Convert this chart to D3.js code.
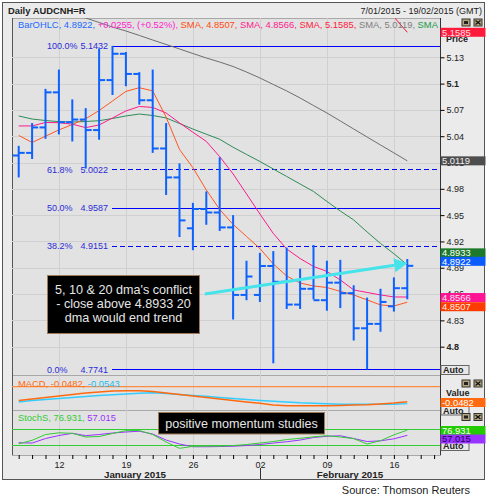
<!DOCTYPE html>
<html>
<head>
<meta charset="utf-8">
<script src="https://cdn.jsdelivr.net/npm/d3@7"></script>
<style>
  body { margin: 0; background: #fff; }
  text { font-family: "Liberation Sans", Arial, sans-serif; }
</style>
</head>
<body>
<svg id="chart"></svg>
<script>
const width = 489,
    height = 504;

// trading days shown on the axis (data ends on 17 Feb)
const days = ["2015-01-07", "2015-01-08", "2015-01-09", "2015-01-12", "2015-01-13", "2015-01-14",
    "2015-01-15", "2015-01-16", "2015-01-19", "2015-01-20", "2015-01-21", "2015-01-22", "2015-01-23",
    "2015-01-26", "2015-01-27", "2015-01-28", "2015-01-29", "2015-01-30", "2015-02-02", "2015-02-03",
    "2015-02-04", "2015-02-05", "2015-02-06", "2015-02-09", "2015-02-10", "2015-02-11", "2015-02-12",
    "2015-02-13", "2015-02-16", "2015-02-17", "2015-02-18", "2015-02-19"];

const open = [5.018, 5.021, 5.050, 5.090, 5.056, 5.059, 5.047, 5.104, 5.134, 5.111, 5.081, 5.026, 4.993,
    4.935, 4.957, 4.953, 4.936, 4.859, 4.859, 4.892, 4.874, 4.848, 4.866, 4.853, 4.873, 4.861, 4.821,
    4.826, 4.846, 4.8667];
const high = [5.029, 5.055, 5.094, 5.116, 5.082, 5.072, 5.140, 5.143, 5.136, 5.113, 5.116, 5.055, 5.009,
    4.964, 4.977, 5.016, 4.950, 4.898, 4.907, 4.909, 4.913, 4.889, 4.916, 4.898, 4.899, 4.870, 4.856,
    4.866, 4.879, 4.900];
const low = [4.993, 5.014, 5.037, 5.042, 5.034, 5.003, 5.036, 5.087, 5.097, 5.076, 5.021, 4.973, 4.925,
    4.910, 4.939, 4.932, 4.831, 4.853, 4.851, 4.781, 4.843, 4.843, 4.854, 4.841, 4.844, 4.807, 4.774,
    4.817, 4.840, 4.854];
const close = [5.021, 5.050, 5.090, 5.056, 5.059, 5.047, 5.104, 5.134, 5.111, 5.081, 5.026, 4.993, 4.944,
    4.957, 4.953, 4.936, 4.859, 4.880, 4.892, 4.874, 4.848, 4.866, 4.853, 4.873, 4.861, 4.821, 4.826,
    4.851, 4.8667, 4.8922];

const sma5 = [5.0409, 5.0329, 5.0400, 5.0472, 5.0533, 5.0599, 5.0693, 5.0801, 5.0911, 5.0953, 5.0917,
    5.0618, 5.0249, 5.0041, 4.9787, 4.9565, 4.9394, 4.9257, 4.9120, 4.8943, 4.8806, 4.8726, 4.8692,
    4.8675, 4.8630, 4.8590, 4.8533, 4.8476, 4.8464, 4.8507];
const sma10 = [5.0517, 5.0517, 5.0557, 5.0554, 5.0537, 5.0498, 5.0528, 5.0608, 5.0688, 5.0739, 5.0728,
    5.0665, 5.0552, 5.0445, 5.0341, 5.0167, 4.9970, 4.9742, 4.9513, 4.9291, 4.9114, 4.9005, 4.8915,
    4.8858, 4.8761, 4.8647, 4.8618, 4.8590, 4.8567, 4.8566];
const sma20 = [5.0631, 5.0596, 5.0579, 5.0566, 5.0562, 5.0568, 5.0577, 5.0602, 5.0631, 5.0653, 5.0636,
    5.0608, 5.0545, 5.0482, 5.0423, 5.0365, 5.0274, 5.0192, 5.0112, 5.0026, 4.9941, 4.9855, 4.9770,
    4.9656, 4.9547, 4.9445, 4.9308, 4.9177, 4.9060, 4.8933];
const smaGray = [5.2005, 5.1953, 5.1902, 5.1851, 5.1799, 5.1748, 5.1697, 5.1645, 5.1600, 5.1549, 5.1497,
    5.1446, 5.1395, 5.1343, 5.1292, 5.1246, 5.1195, 5.1132, 5.1064, 5.0990, 5.0916, 5.0836, 5.0750,
    5.0665, 5.0574, 5.0482, 5.0391, 5.0300, 5.0210, 5.0119];
const smaRed = [null, null, null, null, null, null, null, null, null, null, null, null, null, null, null,
    null, null, null, null, null, null, null, null, null, null, null, 5.196, 5.186, 5.176, 5.1585];

const macd = [-0.0444, -0.0395, -0.0347, -0.0299, -0.0251, -0.0203, -0.0170, -0.0138, -0.0129, -0.0129,
    -0.0154, -0.0203, -0.0251, -0.0299, -0.0347, -0.0396, -0.0444, -0.0492, -0.0534, -0.0588, -0.0611,
    -0.0611, -0.0611, -0.0611, -0.0604, -0.0588, -0.0579, -0.0556, -0.0524, -0.0482];
const macdSignal = [-0.0492, -0.0444, -0.0411, -0.0379, -0.0347, -0.0315, -0.0283, -0.0260, -0.0235,
    -0.0212, -0.0196, -0.0219, -0.0251, -0.0283, -0.0309, -0.0347, -0.0379, -0.0411, -0.0444, -0.0469,
    -0.0492, -0.0518, -0.0534, -0.0550, -0.0563, -0.0566, -0.0566, -0.0566, -0.0563, -0.0543];

const stochK = [24.6, 38.0, 60.1, 66.6, 64.7, 50.6, 52.5, 64.0, 75.0, 75.4, 60.1, 31.5, 7.4, 15.0, 16.2,
    16.2, 18.1, 21.9, 27.6, 33.4, 41.0, 45.6, 51.3, 55.5, 50.6, 44.5, 23.8, 36.4, 59.0, 76.931];
const stochD = [28.8, 27.6, 44.8, 56.3, 64.7, 55.9, 60.1, 65.9, 69.7, 72.7, 62.0, 39.1, 23.8, 13.5, 13.5,
    14.3, 15.4, 18.1, 21.9, 27.6, 32.6, 39.1, 48.7, 53.3, 55.5, 44.8, 33.4, 36.1, 43.7, 57.015];

const priceTicks = [4.8, 4.83, 4.86, 4.89, 4.92, 4.95, 4.98, 5.01, 5.04, 5.07, 5.1, 5.13];
const fibPct = ["100.0%", "61.8%", "50.0%", "38.2%", "0.0%"];
const fibVal = [5.1432, 5.0022, 4.9587, 4.9151, 4.7741];
const fibDashed = [false, true, false, true, false];

const left = 12, right = 440;
const pTop = 18, pBot = 375, mBot = 410, sBot = 455;

const svg = d3.select("#chart").attr("width", width).attr("height", height);

const x = d3.scalePoint().domain(days).range([18.7, 434.1]);
const y = d3.scaleLinear().domain([4.7677, 5.1748]).range([pBot, pTop]);
const yM = d3.scaleLinear().domain([-0.0749, 0.0376]).range([mBot, pBot]);
const yS = d3.scaleLinear().domain([-18, 153.7]).range([sBot, mBot]);
const parse = d3.timeParse("%Y-%m-%d");
const mondays = days.filter((d) => parse(d).getDay() === 1);
const crisp = (v) => Math.round(v) + 0.5;

// frame and panels
svg.append("rect").attr("width", width).attr("height", height).attr("fill", "#fff");
svg.append("rect")
    .attr("x", 2.5).attr("y", 2.5).attr("width", 482).attr("height", 477)
    .attr("fill", "#ebebeb").attr("stroke", "#555");
[[pTop, pBot], [pBot, mBot], [mBot, sBot]].forEach(([t, b]) => {
    svg.append("rect")
        .attr("x", left + 0.5).attr("y", t + 0.5).attr("width", right - left).attr("height", b - t)
        .attr("fill", "#e2e2e2").attr("stroke", "#a8a8a8");
});
svg.append("line").attr("x1", left + 0.5).attr("x2", left + 0.5).attr("y1", pTop).attr("y2", sBot).attr("stroke", "#555");
svg.append("line").attr("x1", right + 0.5).attr("x2", right + 0.5).attr("y1", pTop).attr("y2", sBot).attr("stroke", "#333");

// grid
svg.append("g").selectAll("line").data(mondays).enter().append("line")
    .attr("x1", (d) => crisp(x(d))).attr("x2", (d) => crisp(x(d)))
    .attr("y1", pTop).attr("y2", sBot)
    .attr("stroke", "#d0d0d0");
svg.append("g").selectAll("line").data(priceTicks).enter().append("line")
    .attr("x1", left).attr("x2", right)
    .attr("y1", (d) => crisp(y(d))).attr("y2", (d) => crisp(y(d)))
    .attr("stroke", "#d0d0d0");

svg.append("clipPath").attr("id", "clipP").append("rect")
    .attr("x", left).attr("y", pTop).attr("width", right - left).attr("height", pBot - pTop);
const plot = svg.append("g").attr("clip-path", "url(#clipP)");

// fibonacci levels
fibVal.forEach((v, i) => {
    plot.append("line")
        .attr("x1", 112).attr("x2", right)
        .attr("y1", crisp(y(v))).attr("y2", crisp(y(v)))
        .attr("stroke", "#0000ff").attr("stroke-width", 1)
        .attr("stroke-dasharray", fibDashed[i] ? "5,3" : null);
    plot.append("text").attr("x", 47).attr("y", y(v) + 3.3)
        .attr("font-size", 9).attr("fill", "#2b2bd8").text(fibPct[i]);
    plot.append("text").attr("x", 108).attr("y", y(v) + 3.3)
        .attr("text-anchor", "end")
        .attr("font-size", 9).attr("fill", "#2b2bd8").text(v.toFixed(4));
});

// moving averages
const bars = days.slice(0, close.length);
function maLine(values, colour, w) {
    plot.append("path")
        .datum(values.map((v, i) => [bars[i], v]))
        .attr("fill", "none").attr("stroke", colour).attr("stroke-width", w)
        .attr("d", d3.line().defined((d) => d[1] != null).x((d) => x(d[0])).y((d) => y(d[1])));
}
maLine(smaGray, "#6e6e6e", 1);
maLine(sma20, "#2e8b57", 1);
maLine(sma10, "#ff1a8c", 1);
maLine(sma5, "#ff5522", 1);
maLine(smaRed, "#ff1030", 1);

// OHLC bars
const ohlc = plot.append("g").attr("stroke", "#0d62ff").attr("stroke-width", 2);
bars.forEach((d, i) => {
    ohlc.append("line").attr("x1", x(d)).attr("x2", x(d)).attr("y1", y(high[i])).attr("y2", y(low[i]));
    ohlc.append("line").attr("x1", x(d) - 6).attr("x2", x(d)).attr("y1", y(open[i])).attr("y2", y(open[i]));
    ohlc.append("line").attr("x1", x(d)).attr("x2", x(d) + 6).attr("y1", y(close[i])).attr("y2", y(close[i]));
});

// trend arrow
const a0 = [x(bars[13]) + 12, y(4.8601)],
    a1 = [x(bars[29]), y(4.8951)];
const ang = Math.atan2(a1[1] - a0[1], a1[0] - a0[0]);
const hb = [a1[0] - 13 * Math.cos(ang), a1[1] - 13 * Math.sin(ang)];
plot.append("line")
    .attr("x1", a0[0]).attr("y1", a0[1]).attr("x2", hb[0]).attr("y2", hb[1])
    .attr("stroke", "#45e3ea").attr("stroke-width", 3);
plot.append("polygon")
    .attr("points", [a1,
        [hb[0] + 7 * Math.sin(ang), hb[1] - 7 * Math.cos(ang)],
        [hb[0] - 7 * Math.sin(ang), hb[1] + 7 * Math.cos(ang)]].map((p) => p.join(",")).join(" "))
    .attr("fill", "#45e3ea");

// annotation box
svg.append("rect").attr("x", 47.5).attr("y", 275.5).attr("width", 152).attr("height", 58)
    .attr("fill", "#000").attr("stroke", "#9c7a55");
["5, 10 & 20 dma's conflict", "- close above 4.8933 20", "dma would end trend"].forEach((t, i) => {
    svg.append("text").attr("x", 123.5).attr("y", 294 + i * 14.2)
        .attr("text-anchor", "middle").attr("font-size", 12.6).attr("fill", "#e6e6e6").text(t);
});

// legend row
const legendParts = [["BarOHLC, 4.8922, ", "#1a6aff"], ["+0.0255, (+0.52%), ", "#ff22cc"],
    ["SMA, 4.8507, ", "#ff4a10"], ["SMA, 4.8566, ", "#ff1a8c"], ["SMA, 5.1585, ", "#ff2040"],
    ["SMA, 5.0119, ", "#808080"], ["SMA", "#1a9a4a"]];
const lg = svg.append("text").attr("x", 18).attr("y", 28).attr("font-size", 9.4);
legendParts.forEach(([t, c]) => lg.append("tspan").attr("fill", c).text(t));

// header
svg.append("text").attr("x", 8).attr("y", 13.5).attr("font-size", 9.4).attr("font-weight", "bold")
    .attr("fill", "#222").text("Daily AUDCNH=R");
svg.append("text").attr("x", 482).attr("y", 13.5).attr("font-size", 9).attr("text-anchor", "end")
    .attr("fill", "#222").text("7/01/2015 - 19/02/2015 (GMT)");

// right price axis
svg.append("g")
    .attr("transform", "translate(" + (right + 0.5) + ",0)")
    .call(d3.axisRight(y).tickValues(priceTicks).tickSize(4).tickFormat(d3.format("")))
    .call((g) => g.select(".domain").remove())
    .call((g) => g.selectAll("text").attr("font-size", 9).attr("x", 6).attr("fill", "#222")
        .attr("font-family", "Liberation Sans, Arial, sans-serif")
        .attr("font-weight", (d) => (Math.abs(d * 10 - Math.round(d * 10)) < 1e-6 ? "bold" : null)));
svg.append("text").attr("x", 446).attr("y", 42).attr("font-size", 9).attr("font-weight", "bold")
    .attr("fill", "#222").text("Price");

function tag(txt, cy, fill, colour) {
    svg.append("rect").attr("x", right + 0.5).attr("y", cy - 4.5).attr("width", 45).attr("height", 9)
        .attr("fill", fill);
    svg.append("text").attr("x", right + 2).attr("y", cy + 3.4).attr("font-size", 9.4)
        .attr("fill", colour).text(txt);
}
function button(bx, by) {
    svg.append("rect").attr("x", bx).attr("y", by).attr("width", 28).attr("height", 9)
        .attr("fill", "#e8e8e8").attr("stroke", "#666");
    svg.append("text").attr("x", bx + 2).attr("y", by + 7.8).attr("font-size", 9)
        .attr("font-weight", "bold").attr("fill", "#222").text("Auto");
}
function icons(by) {
    [462, 474].forEach((bx, i) => {
        svg.append("rect").attr("x", bx).attr("y", by).attr("width", 8).attr("height", 7)
            .attr("fill", "#b5a77a").attr("stroke", "#333");
        if (i) {
            svg.append("path").attr("d", `M${bx + 1.5},${by + 1.5}L${bx + 6.5},${by + 5.5}M${bx + 6.5},${by + 1.5}L${bx + 1.5},${by + 5.5}`)
                .attr("stroke", "#111").attr("stroke-width", 1.3);
        } else {
            svg.append("rect").attr("x", bx + 2).attr("y", by + 2).attr("width", 4).attr("height", 3)
                .attr("fill", "#222");
        }
    });
}
icons(19);
button(441, 365.5);
const last = close.length - 1;
tag(smaRed[last].toFixed(4), y(smaRed[last]), "#ff1a3c", "#ffe0e6");
tag(smaGray[last].toFixed(4), y(smaGray[last]), "#4d4d4d", "#f0f0f0");
tag(sma20[last].toFixed(4), y(sma20[last]) - 12, "#1d7a2c", "#ffffff");
tag(close[last].toFixed(4), y(close[last]) - 4.5, "#0a5cff", "#ffffff");
tag(sma10[last].toFixed(4), y(sma10[last]) + 0.5, "#ff1493", "#ffe6f2");
tag(sma5[last].toFixed(4), y(sma5[last]) + 4.5, "#ff3c00", "#ffece6");

// MACD panel
svg.append("line").attr("x1", left).attr("x2", right).attr("y1", yM(0)).attr("y2", yM(0))
    .attr("stroke", "#ff8a40").attr("stroke-width", 1.2);
const lineM = d3.line().x((d) => x(d[0])).y((d) => yM(d[1]));
svg.append("path").datum(macdSignal.map((v, i) => [bars[i], v]))
    .attr("fill", "none").attr("stroke", "#33ccff").attr("stroke-width", 1.4).attr("d", lineM);
svg.append("path").datum(macd.map((v, i) => [bars[i], v]))
    .attr("fill", "none").attr("stroke", "#ff6a10").attr("stroke-width", 1.4).attr("d", lineM);
const ml = svg.append("text").attr("x", 18).attr("y", 387).attr("font-size", 9.4);
ml.append("tspan").attr("fill", "#ff6a10").text("MACD, " + macd[last].toFixed(4) + ", ");
ml.append("tspan").attr("fill", "#22bbee").text(macdSignal[last].toFixed(4));
icons(380);
svg.append("text").attr("x", 446).attr("y", 396).attr("font-size", 9).attr("font-weight", "bold")
    .attr("fill", "#222").text("Value");
button(441, 406);
tag(macd[last].toFixed(4), 402.5, "#ff6a10", "#ffffff");

// Stochastic panel
[80, 20].forEach((v) => {
    svg.append("line").attr("x1", left).attr("x2", right).attr("y1", crisp(yS(v))).attr("y2", crisp(yS(v)))
        .attr("stroke", "#33cc33");
});
const lineS = d3.line().x((d) => x(d[0])).y((d) => yS(d[1]));
svg.append("path").datum(stochD.map((v, i) => [bars[i], v]))
    .attr("fill", "none").attr("stroke", "#9933ff").attr("stroke-width", 1).attr("d", lineS);
svg.append("path").datum(stochK.map((v, i) => [bars[i], v]))
    .attr("fill", "none").attr("stroke", "#33cc33").attr("stroke-width", 1).attr("d", lineS);
const sl = svg.append("text").attr("x", 18).attr("y", 421).attr("font-size", 9.4);
sl.append("tspan").attr("fill", "#33cc33").text("StochS, " + stochK[last].toFixed(3) + ", ");
sl.append("tspan").attr("fill", "#9933ff").text(stochD[last].toFixed(3));
icons(413.5);
button(441, 441.5);
tag(stochK[last].toFixed(3), 430.5, "#22cc00", "#ffffff");
tag(stochD[last].toFixed(3), 439, "#9933ff", "#220055");

svg.append("rect").attr("x", 158.5).attr("y", 412.5).attr("width", 166).attr("height", 21.5)
    .attr("fill", "#000").attr("stroke", "#9c7a55");
svg.append("text").attr("x", 241.5).attr("y", 427.5).attr("text-anchor", "middle")
    .attr("font-size", 12.6).attr("fill", "#e6e6e6").text("positive momentum studies");

// x axis
svg.append("g")
    .attr("transform", "translate(0," + sBot + ")")
    .call(d3.axisBottom(x).tickSize(4)
        .tickFormat((d) => (mondays.includes(d) ? d3.timeFormat("%d")(parse(d)) : "")))
    .call((g) => g.select(".domain").remove())
    .call((g) => g.selectAll("text").attr("font-size", 9).attr("y", 7).attr("fill", "#222")
        .attr("font-family", "Liberation Sans, Arial, sans-serif"));
svg.append("line").attr("x1", crisp(x("2015-02-02"))).attr("x2", crisp(x("2015-02-02")))
    .attr("y1", 468).attr("y2", 479).attr("stroke", "#333");
svg.append("text").attr("x", 135).attr("y", 477.5).attr("text-anchor", "middle")
    .attr("font-size", 9.8).attr("font-weight", "bold").attr("fill", "#222").text("January 2015");
svg.append("text").attr("x", 350).attr("y", 477.5).attr("text-anchor", "middle")
    .attr("font-size", 9.8).attr("font-weight", "bold").attr("fill", "#222").text("February 2015");

svg.append("text").attr("x", 470).attr("y", 494).attr("text-anchor", "end")
    .attr("font-size", 11).attr("font-family", "Open Sans, sans-serif").attr("fill", "#222")
    .text("Source: Thomson Reuters");
</script>
</body>
</html>
